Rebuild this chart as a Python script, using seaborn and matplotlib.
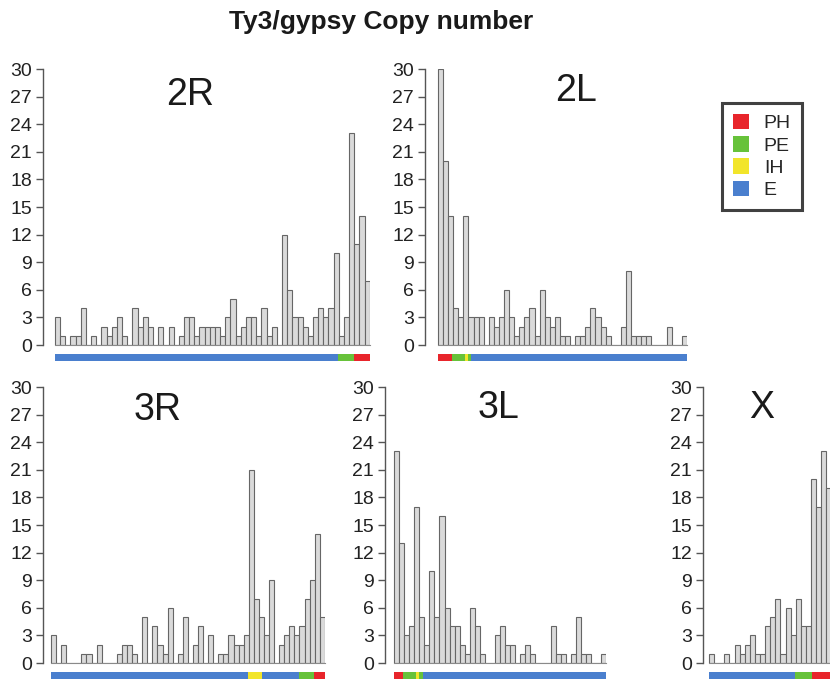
import numpy as np
import pandas as pd
import seaborn as sns
import matplotlib.pyplot as plt
from matplotlib.patches import Patch, Rectangle
import matplotlib.transforms as mtransforms

# copy number per window
arm_2R = [3, 1, 0, 1, 1, 4, 0, 1, 0, 2, 1, 2, 3, 1, 0, 4, 2, 3, 2, 0,
          2, 0, 2, 0, 1, 3, 3, 1, 2, 2, 2, 2, 1, 3, 5, 1, 2, 3, 3, 1,
          4, 1, 2, 0, 12, 6, 3, 3, 2, 1, 3, 4, 3, 4, 10, 1, 3, 23, 11, 14, 7]
arm_2L = [30, 20, 14, 4, 3, 14, 3, 3, 3, 0, 3, 2, 3, 6, 3, 1, 2, 3, 4, 1,
          6, 3, 2, 3, 1, 1, 0, 1, 1, 2, 4, 3, 2, 1, 0, 0, 2, 8, 1, 1,
          1, 1, 0, 0, 0, 2, 0, 0, 1]
arm_3R = [3, 0, 2, 0, 0, 0, 1, 1, 0, 2, 0, 0, 0, 1, 2, 2, 1, 0, 5, 0,
          4, 2, 1, 6, 0, 1, 5, 0, 2, 4, 0, 3, 0, 1, 1, 3, 2, 2, 3, 21,
          7, 5, 3, 9, 0, 2, 3, 4, 3, 4, 7, 9, 14, 5]
arm_3L = [23, 13, 3, 4, 17, 5, 2, 10, 5, 16, 6, 4, 4, 2, 1, 6, 4, 1, 0, 0,
          3, 4, 2, 2, 0, 1, 2, 1, 0, 0, 0, 4, 1, 1, 0, 1, 5, 1, 1, 0, 0, 1]
arm_X = [1, 0, 0, 1, 0, 2, 1, 2, 3, 1, 1, 4, 5, 7, 1, 6, 3, 7, 4, 4,
         20, 17, 23, 19]

# chromatin regions under each arm, (region, length in windows)
regions_2R = [("E", 54.8), ("PE", 3.2), ("PH", 3.0)]
regions_2L = [("PH", 2.75), ("PE", 2.55), ("IH", 0.6), ("PE", 0.5), ("E", 42.6)]
regions_3R = [("E", 38.8), ("IH", 2.76), ("E", 7.36), ("PE", 2.96), ("PH", 2.12)]
regions_3L = [("PH", 1.8), ("PE", 2.6), ("IH", 0.6), ("PE", 0.8), ("E", 36.2)]
regions_X = [("E", 16.9), ("PE", 3.3), ("PH", 10.0)]

legend_labels = ["PH", "PE", "IH", "E"]
region_colors = {"PH": "#e8252b", "PE": "#67c23a", "IH": "#f2e52a", "E": "#4a7fce"}

W, H = 830, 680

# layout in pixels: spine x, first bar x, bar width, baseline y, label centre
panels = [
    ("2R", arm_2R, regions_2R, 43, 55, 5.16, 345, (190, 95)),
    ("2L", arm_2L, regions_2L, 425, 438, 5.08, 345, (576, 91)),
    ("3R", arm_3R, regions_3R, 43, 51, 5.07, 663, (158, 410)),
    ("3L", arm_3L, regions_3L, 385, 394, 5.05, 663, (498, 408)),
    ("X", arm_X, regions_X, 703, 709, 5.10, 663, (762, 408)),
]

sns.set_style("white")
plt.rcParams["font.family"] = ["Liberation Sans", "DejaVu Sans"]

fig = plt.figure(figsize=(W / 100, H / 100), dpi=100)
fig.patch.set_facecolor("white")

axis_px = 276  # height of the 0-30 range

for name, vals, regions, spine_x, bar_x, bw, base_y, lab in panels:
    n = len(vals)
    right_px = bar_x + n * bw
    ax = fig.add_axes([spine_x / W, 1 - base_y / H,
                       (right_px - spine_x) / W, axis_px / H])
    df = pd.DataFrame({"win": np.arange(n), "copies": vals})
    sns.barplot(data=df, x="win", y="copies", color="#dadada", saturation=1,
                edgecolor="#666666", linewidth=0.8, width=1.0, ax=ax)
    offset = (bar_x - spine_x) / bw
    ax.set_xlim(-0.5 - offset, n - 0.5)
    ax.set_ylim(0, 30)
    ax.set_yticks(np.arange(0, 31, 3))
    ax.set_xticks([])
    ax.set_xlabel("")
    ax.set_ylabel("")
    ax.set_facecolor("none")
    for s in ["top", "right"]:
        ax.spines[s].set_visible(False)
    ax.spines["left"].set_color("#555555")
    ax.spines["left"].set_linewidth(1.0)
    ax.spines["left"].set_bounds(0, 30)
    ax.spines["bottom"].set_color("#8a8a8a")
    ax.spines["bottom"].set_linewidth(0.8)
    ax.spines["bottom"].set_bounds(-0.5, n - 0.5)
    ax.tick_params(axis="y", length=5, width=1, color="#555555",
                   labelsize=14, pad=3, labelcolor="#222222", left=True)

    # region strip under the bars
    trans = mtransforms.blended_transform_factory(ax.transData, ax.transAxes)
    start = -0.5
    for reg, length in regions:
        ax.add_patch(Rectangle((start, -15.5 / axis_px), length, 7 / axis_px,
                               facecolor=region_colors[reg], edgecolor="none",
                               transform=trans, clip_on=False))
        start += length

    fig.text(lab[0] / W, 1 - lab[1] / H, name, fontsize=27, color="#1a1a1a",
             ha="center", va="center")

fig.text(381 / W, 1 - 22 / H, "Ty3/gypsy Copy number", fontsize=19,
         fontweight="bold", color="#1a1a1a", ha="center", va="center")

handles = [Patch(facecolor=region_colors[k], edgecolor="none") for k in legend_labels]
leg = fig.legend(handles, legend_labels, loc="upper left",
                 bbox_to_anchor=(722 / W, 1 - 103 / H), fontsize=14,
                 frameon=True, fancybox=False, handlelength=0.85,
                 handleheight=0.85, handletextpad=0.75, labelspacing=0.2,
                 borderpad=0.55, borderaxespad=0)
leg.get_frame().set_edgecolor("#111111")
leg.get_frame().set_linewidth(2.2)

fig.savefig("out.png", dpi=100, facecolor="white")
